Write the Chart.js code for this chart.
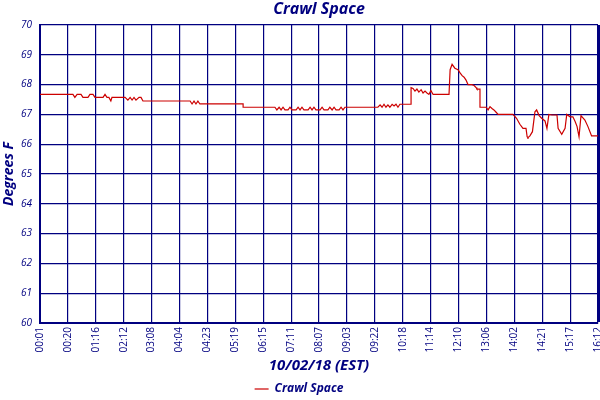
<!DOCTYPE html>
<html>
<head>
<meta charset="utf-8">
<script src="https://cdn.jsdelivr.net/npm/chart.js@4/dist/chart.umd.min.js"></script>
<style>
  html, body { margin: 0; padding: 0; background: #ffffff; }
  #wrap { width: 600px; height: 400px; }
</style>
</head>
<body>
<div id="wrap"><canvas id="c" width="600" height="400"></canvas></div>
<script>
// Tick labels along the time axis (one per grid column)
const tickLabels = ["00:01","00:20","01:16","02:12","03:08","04:04","04:23","05:19","06:15","07:11",
  "08:07","09:03","09:22","10:18","11:14","12:10","13:06","14:02","14:21","15:17","16:12"];

// Sample positions, measured in tick intervals from the first label
const sampleX = [
  0, 1.18, 1.25, 1.33, 1.47, 1.54, 1.72, 1.79, 1.90, 1.97, 2.26, 2.33, 2.40, 2.47, 2.54, 2.58,
  3.05, 3.15, 3.23, 3.30, 3.37, 3.44, 3.55, 3.62, 3.69, 5.38, 5.45, 5.52, 5.59, 5.66, 5.73,
  7.28, 7.28, 8.42, 8.49, 8.57, 8.64, 8.71, 8.78, 8.89, 8.96, 9.03, 9.18, 9.25, 9.32, 9.39,
  9.46, 9.61, 9.68, 9.75, 9.82, 9.89, 10.04, 10.11, 10.18, 10.32, 10.39, 10.47, 10.54, 10.61,
  10.72, 10.79, 10.86, 10.93, 12.11, 12.19, 12.26, 12.33, 12.40, 12.47, 12.54, 12.62, 12.69,
  12.76, 12.83, 12.90, 13.30, 13.30, 13.37, 13.44, 13.51, 13.58, 13.66, 13.73, 13.80, 13.87,
  13.94, 14.01, 14.09, 14.66, 14.70, 14.77, 14.87, 14.98, 15.05, 15.13, 15.20, 15.27, 15.34,
  15.48, 15.56, 15.63, 15.66, 15.77, 15.77, 15.99, 16.06, 16.13, 16.20, 16.27, 16.34, 16.42,
  16.95, 17.08, 17.20, 17.31, 17.42, 17.46, 17.49, 17.56, 17.65, 17.74, 17.80, 17.89, 17.98,
  18.10, 18.17, 18.24, 18.35, 18.53, 18.57, 18.70, 18.82, 18.88, 19.00, 19.10, 19.18, 19.25,
  19.32, 19.39, 19.53, 19.64, 19.77, 20.0
];

// Crawl Space temperature (Degrees F)
const crawlSpace = [
  67.67, 67.67, 67.57, 67.67, 67.67, 67.57, 67.57, 67.67, 67.67, 67.57, 67.57, 67.67, 67.57, 67.57, 67.45, 67.57,
  67.57, 67.48, 67.57, 67.48, 67.57, 67.48, 67.57, 67.57, 67.45, 67.45, 67.35, 67.45, 67.35, 67.45, 67.35,
  67.35, 67.24, 67.24, 67.15, 67.24, 67.15, 67.24, 67.15, 67.15, 67.24, 67.15, 67.15, 67.24, 67.15, 67.24,
  67.15, 67.15, 67.24, 67.15, 67.24, 67.15, 67.15, 67.24, 67.15, 67.15, 67.24, 67.15, 67.24, 67.15,
  67.15, 67.24, 67.15, 67.24, 67.24, 67.32, 67.24, 67.34, 67.24, 67.32, 67.24, 67.34, 67.28,
  67.34, 67.24, 67.34, 67.34, 67.90, 67.87, 67.78, 67.85, 67.75, 67.83, 67.72, 67.78, 67.72,
  67.67, 67.80, 67.67, 67.67, 68.50, 68.68, 68.55, 68.50, 68.40, 68.30, 68.25, 68.15, 68.00,
  68.00, 67.97, 67.90, 67.85, 67.85, 67.24, 67.24, 67.15, 67.26, 67.20, 67.15, 67.08, 67.00,
  67.00, 66.87, 66.67, 66.53, 66.53, 66.25, 66.22, 66.28, 66.42, 67.09, 67.15, 66.96, 66.87,
  66.78, 66.53, 67.00, 66.98, 66.98, 66.53, 66.33, 66.53, 67.00, 66.92, 66.92, 66.76, 66.59,
  66.25, 66.96, 66.81, 66.59, 66.28, 66.28
];

const seriesName = "Crawl Space";
const chartTitle = "Crawl Space";
const xTitle = "10/02/18 (EST)";
const yTitle = "Degrees F";

const NAVY = "#000080";
const RED = "#CC0000";
const FONT = "'Open Sans', 'DejaVu Sans', sans-serif";

const points = sampleX.map((x, i) => ({ x: x, y: crawlSpace[i] }));

new Chart(document.getElementById("c"), {
  type: "line",
  data: {
    datasets: [{
      label: seriesName,
      data: points,
      borderColor: RED,
      backgroundColor: RED,
      borderWidth: 1.2,
      pointRadius: 0,
      tension: 0,
      fill: false
    }]
  },
  options: {
    responsive: false,
    animation: false,
    devicePixelRatio: 1,
    layout: { padding: { left: 0, right: 2, top: 0, bottom: 0 } },
    plugins: {
      title: { display: false },
      tooltip: { enabled: false },
      legend: {
        display: true,
        position: "bottom",
        maxHeight: 21,
        labels: {
          color: NAVY,
          padding: 4,
          usePointStyle: true,
          pointStyle: "line",
          pointStyleWidth: 14,
          font: { family: FONT, size: 12, style: "italic", weight: "bold" }
        }
      }
    },
    scales: {
      x: {
        type: "linear",
        position: "bottom",
        min: 0,
        max: tickLabels.length - 1,
        afterFit: (s) => { s.height = 56; s.paddingLeft = 0; s.paddingRight = 0; },
        ticks: {
          stepSize: 1,
          autoSkip: false,
          minRotation: 90,
          maxRotation: 90,
          padding: 4,
          color: NAVY,
          font: { family: FONT, size: 10 },
          callback: (v) => tickLabels[v]
        },
        grid: {
          color: NAVY,
          drawTicks: false,
          lineWidth: (ctx) => (ctx.index === tickLabels.length - 1 ? 3 : 1.2)
        },
        border: { color: NAVY, width: 2 },
        title: {
          display: true,
          text: xTitle,
          color: NAVY,
          padding: { top: 0, bottom: 4 },
          font: { family: FONT, size: 15, style: "italic", weight: "bold" }
        }
      },
      xTop: {
        type: "linear",
        position: "top",
        min: 0,
        max: 1,
        afterFit: (s) => { s.height = 25; s.paddingLeft = 0; s.paddingRight = 0; },
        ticks: { display: false },
        grid: { display: false, drawTicks: false },
        border: { display: false },
        title: {
          display: true,
          text: chartTitle,
          color: NAVY,
          padding: { top: 0, bottom: 0 },
          font: { family: FONT, size: 16, style: "italic", weight: "bold" }
        }
      },
      y: {
        type: "linear",
        min: 60,
        max: 70,
        afterFit: (s) => { s.width = 40; s.paddingTop = 0; s.paddingBottom = 0; },
        ticks: {
          stepSize: 1,
          padding: 8,
          color: NAVY,
          font: { family: FONT, size: 10, style: "italic" }
        },
        grid: { color: NAVY, drawTicks: false, lineWidth: 1.2 },
        border: { color: NAVY, width: 2 },
        title: {
          display: true,
          text: yTitle,
          color: NAVY,
          padding: { top: 1, bottom: 0 },
          font: { family: FONT, size: 14, style: "italic", weight: "bold" }
        }
      }
    }
  }
});
</script>
</body>
</html>
